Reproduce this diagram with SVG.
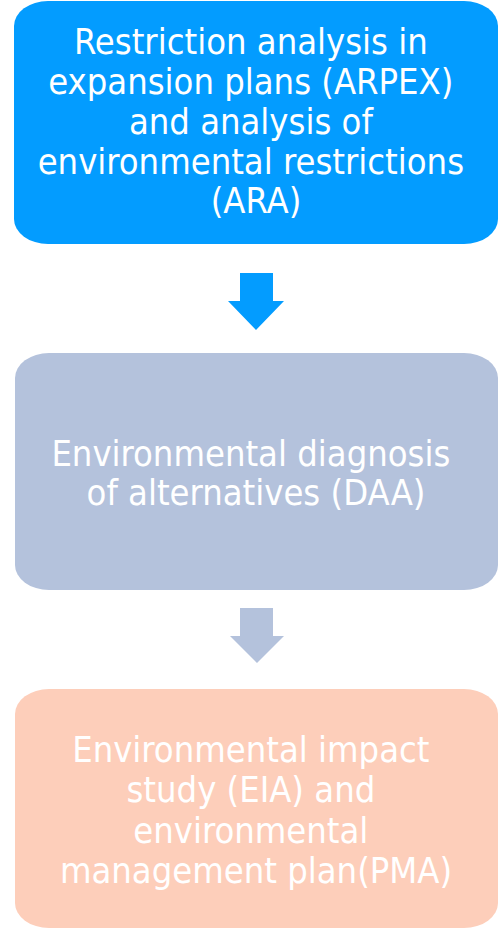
<svg xmlns="http://www.w3.org/2000/svg" width="500" height="930" viewBox="0 0 500 930">
  <style>
    .box-text { font-family: "DejaVu Sans Condensed", "DejaVu Sans", sans-serif; font-stretch: condensed; font-size: 36px; fill: #ffffff; text-anchor: middle; }
  </style>
  <rect width="500" height="930" fill="#ffffff"/>

  <g id="node-arpex">
    <rect x="14" y="1" width="484" height="243" rx="34" ry="25" fill="#039CFF"/>
    <text class="box-text">
      <tspan x="256" y="54">Restriction analysis in</tspan>
      <tspan x="256" y="94">expansion plans (ARPEX)</tspan>
      <tspan x="256" y="134">and analysis of</tspan>
      <tspan x="256" y="174">environmental restrictions</tspan>
      <tspan x="256" y="213">(ARA)</tspan>
    </text>
  </g>

  <g id="node-daa">
    <rect x="15" y="353" width="483" height="237" rx="34" ry="25" fill="#B4C2DC"/>
    <text class="box-text">
      <tspan x="256" y="466">Environmental diagnosis</tspan>
      <tspan x="256" y="505">of alternatives (DAA)</tspan>
    </text>
  </g>

  <g id="node-eia">
    <rect x="15" y="689" width="483" height="239" rx="34" ry="25" fill="#FDCEBA"/>
    <text class="box-text">
      <tspan x="256" y="762">Environmental impact</tspan>
      <tspan x="256" y="802">study (EIA) and</tspan>
      <tspan x="256" y="843">environmental</tspan>
      <tspan x="256" y="883">management plan(PMA)</tspan>
    </text>
  </g>

  <g id="connectors">
    <polygon points="240,273 273,273 273,301 284,301 256,330 228,301 240,301" fill="#039CFF"/>
    <polygon points="240,608 273,608 273,636 284,636 257,663 230,636 240,636" fill="#B4C2DC"/>
  </g>
</svg>
